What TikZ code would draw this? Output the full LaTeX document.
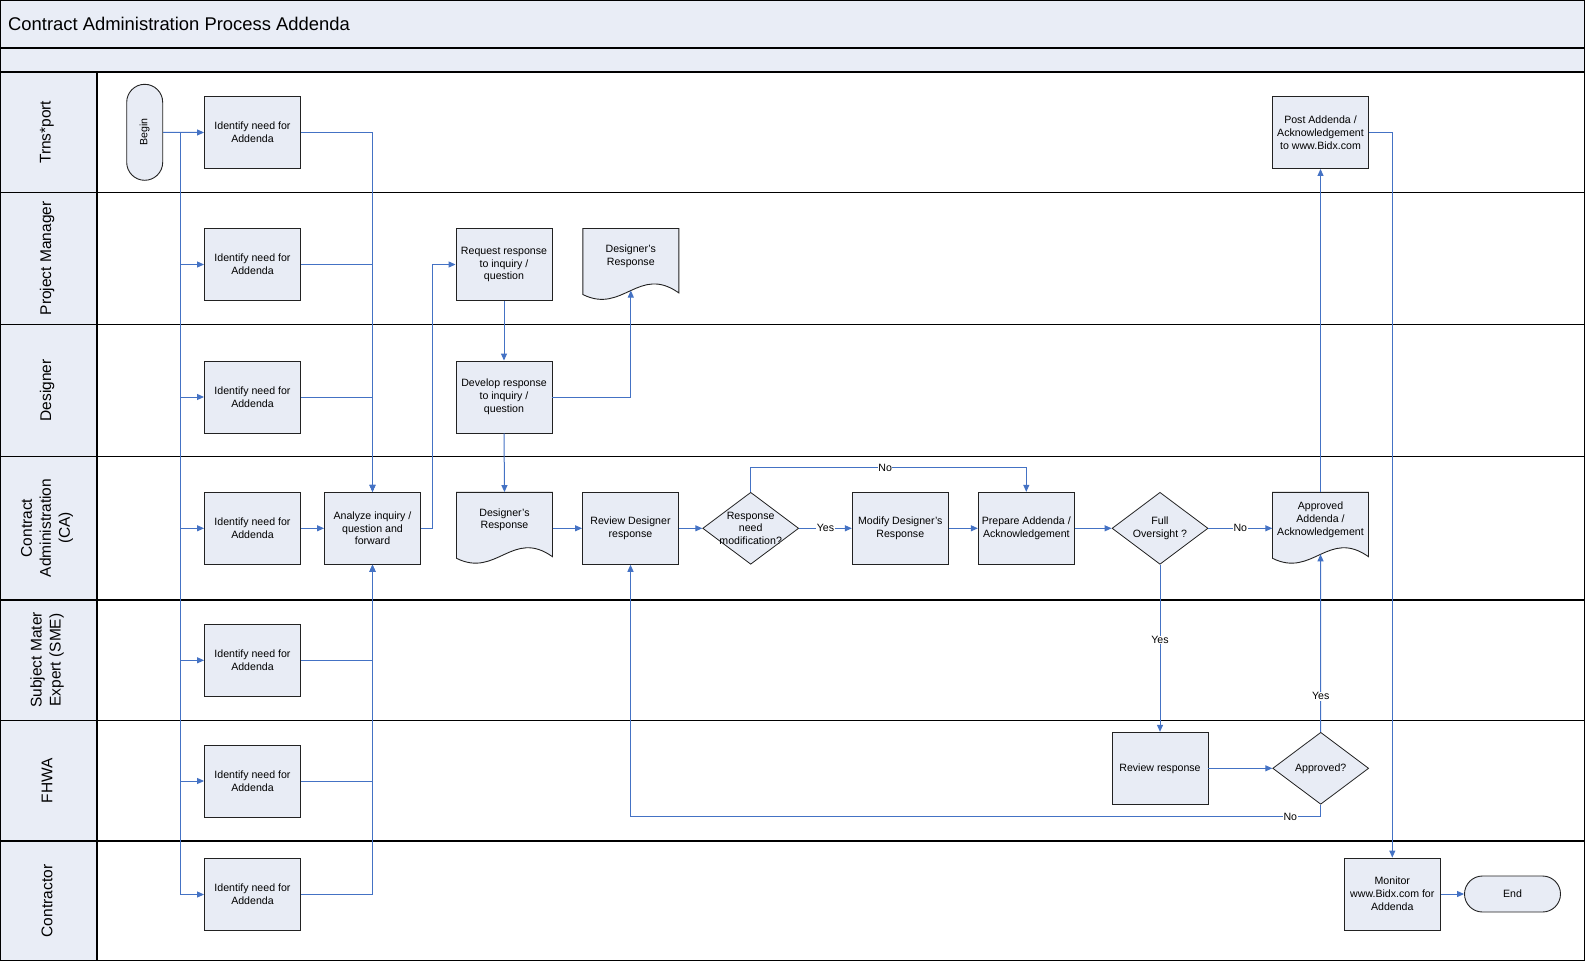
\documentclass[tikz,border=0pt]{standalone}
\usepackage{fontspec}
\setmainfont{Liberation Sans}
\usetikzlibrary{shapes.geometric,arrows.meta}
\definecolor{boxfill}{HTML}{E8ECF5}
\definecolor{bandfill}{HTML}{E9EDF6}
\definecolor{conncol}{HTML}{4472C4}
\definecolor{boxline}{HTML}{222222}
\tikzset{
 box/.style={draw=boxline, line width=0.9pt, fill=boxfill, minimum width=96pt, minimum height=72pt, inner sep=2pt, align=center, font=\fontsize{10.6}{12.8}\selectfont},
 terminal/.style={draw=boxline, line width=0.9pt, fill=boxfill, rounded corners=18pt, inner sep=0pt, align=center, font=\fontsize{10.6}{12.8}\selectfont},
 decision/.style={diamond, draw=boxline, line width=0.8pt, fill=boxfill, minimum width=96pt, minimum height=72pt, inner sep=0pt},
 dlabel/.style={align=center, font=\fontsize{10.6}{12.8}\selectfont, inner sep=0pt},
 docline/.style={draw=boxline, line width=0.9pt, fill=boxfill},
 docnode/.style={minimum width=96pt, minimum height=72pt, inner sep=0pt},
 doctext/.style={align=center, font=\fontsize{10.6}{12.8}\selectfont, inner sep=0pt},
 conn/.style={draw=conncol, line width=1pt},
 arr/.style={conn, -{Triangle[length=7pt,width=6pt]}},
 lbl/.style={fill=white, inner sep=0.5pt, font=\fontsize{10.6}{12.8}\selectfont},
 lane/.style={draw=black, line width=1.1pt},
 lanetext/.style={rotate=90, align=center, font=\fontsize{15.5}{19}\selectfont},
}
\newcommand{\mydoc}[4]{%
 \draw[docline] (#2-48,#3-36) -- (#2+48,#3-36) -- (#2+48,#3+28.4) .. controls (#2+8,#3) and (#2-8,#3+50) .. (#2-48,#3+30) -- cycle;
 \node[docnode] (#1) at (#2,#3) {};
 \node[doctext] (#1t) at (#2,#3-8.5) {#4};
 \coordinate (#1b) at (#2,#3+26);
}
\begin{document}
\begin{tikzpicture}[x=1pt,y=-1pt]
\useasboundingbox (0,0) rectangle (1585,961);
% bands and lanes
\fill[bandfill] (0,0) rectangle (1585,72);
\fill[bandfill] (0,72) rectangle (97,961);
\draw[lane] (0,48) -- (1585,48);
\draw[lane] (0,72) -- (1585,72);
\foreach \yy in {192.5,324.3,456.3,600,720.3,841}{\draw[lane] (0,\yy) -- (1585,\yy);}
\draw[lane] (97,72) -- (97,961);
\draw[lane] (0.6,0.6) rectangle (1584.4,960.4);
\node[anchor=west, font=\fontsize{18.4}{22}\selectfont, inner sep=0pt] (title) at (8,24) {Contract Administration Process Addenda};
% lane labels
\node[lanetext] (l1) at (47,132.3) {Trns*port};
\node[lanetext] (l2) at (47,258.4) {Project Manager};
\node[lanetext] (l3) at (47,390.3) {Designer};
\node[lanetext] (l4) at (47,528) {Contract\\Administration\\(CA)};
\node[lanetext] (l5) at (47,660) {Subject Mater\\Expert (SME)};
\node[lanetext] (l6) at (47,780.6) {FHWA};
\node[lanetext] (l7) at (47,901) {Contractor};
% nodes
\node[terminal, minimum width=36pt, minimum height=96pt, label={[rotate=90, font=\fontsize{10.6}{12.8}\selectfont]center:Begin}] (begin) at (144.7,132.3) {};
\node[box] (id1) at (252.5,132.5) {Identify need for\\Addenda};
\node[box] (id2) at (252.5,264.5) {Identify need for\\Addenda};
\node[box] (id3) at (252.5,397) {Identify need for\\Addenda};
\node[box] (id4) at (252.5,528.3) {Identify need for\\Addenda};
\node[box] (id5) at (252.5,660.3) {Identify need for\\Addenda};
\node[box] (id6) at (252.5,781) {Identify need for\\Addenda};
\node[box] (id7) at (252.5,894.5) {Identify need for\\Addenda};
\node[box] (an) at (372.5,528.3) {Analyze inquiry /\\question and\\forward};
\node[box] (req) at (504,264.5) {Request response\\to inquiry /\\question};
\node[box] (dev) at (504,397) {Develop response\\to inquiry /\\question};
\mydoc{dr1}{630.8}{264.5}{Designer’s\\Response}
\mydoc{dr2}{504.5}{528.3}{Designer’s\\Response}
\node[box] (rev) at (630.5,528.3) {Review Designer\\response};
\node[decision, label={[dlabel]center:Response\\need\\modification?}] (d1) at (750.7,528.3) {};
\node[box] (mod) at (900.3,528.3) {Modify Designer’s\\Response};
\node[box] (prep) at (1026.3,528.3) {Prepare Addenda /\\Acknowledgement};
\node[decision, label={[dlabel]center:Full\\Oversight ?}] (d2) at (1160,528.3) {};
\mydoc{appdoc}{1320.5}{528.3}{Approved\\Addenda /\\Acknowledgement}
\node[box] (post) at (1320.5,132.5) {Post Addenda /\\Acknowledgement\\to www.Bidx.com};
\node[box] (revr) at (1160,768.3) {Review response};
\node[decision, label={[dlabel]center:Approved?}] (d3) at (1320.7,768.3) {};
\node[box] (mon) at (1392.3,894) {Monitor\\www.Bidx.com for\\Addenda};
\node[terminal, minimum width=96pt, minimum height=36pt] (endn) at (1512.5,894) {End};
% connectors
\coordinate (tr) at (180.7,132.3);
\draw[arr] (begin.east) -- (id1.west);
\foreach \n in {id2,id3,id4,id5,id6,id7}{\draw[arr] (begin.east) -- (tr) |- (\n.west);}
\draw[arr] (id1.east) -| (an.north);
\draw[arr] (id2.east) -| (an.north);
\draw[arr] (id3.east) -| (an.north);
\draw[arr] (id4.east) -- (an.west);
\draw[arr] (id5.east) -| (an.south);
\draw[arr] (id6.east) -| (an.south);
\draw[arr] (id7.east) -| (an.south);
\draw[arr] (an.east) -- ++(12,0) |- (req.west);
\draw[arr] (req.south) -- (dev.north);
\draw[arr] (dev.east) -| (dr1b);
\draw[arr] (dev.south) -- (dr2.north);
\draw[arr] (dr2.east) -- (rev.west);
\draw[arr] (rev.east) -- (d1.west);
\draw[arr] (d1.east) -- node[lbl] {Yes} (mod.west);
\draw[arr] (d1.north) -- ++(0,-24) -| node[lbl, pos=0.244] {No} (prep.north);
\draw[arr] (mod.east) -- (prep.west);
\draw[arr] (prep.east) -- (d2.west);
\draw[arr] (d2.east) -- node[lbl] {No} (appdoc.west);
\draw[arr] (d2.south) -- node[lbl, pos=0.45] {Yes} (revr.north);
\draw[arr] (revr.east) -- (d3.west);
\draw[arr] (d3.north) -- node[lbl, pos=0.2] {Yes} (appdocb);
\draw[arr] (d3.south) -- ++(0,11.7) -| node[lbl, pos=0.022] {No} (rev.south);
\draw[arr] (appdoc.north) -- (post.south);
\draw[arr] (post.east) -| (mon.north);
\draw[arr] (mon.east) -- (endn.west);
\end{tikzpicture}
\end{document}
